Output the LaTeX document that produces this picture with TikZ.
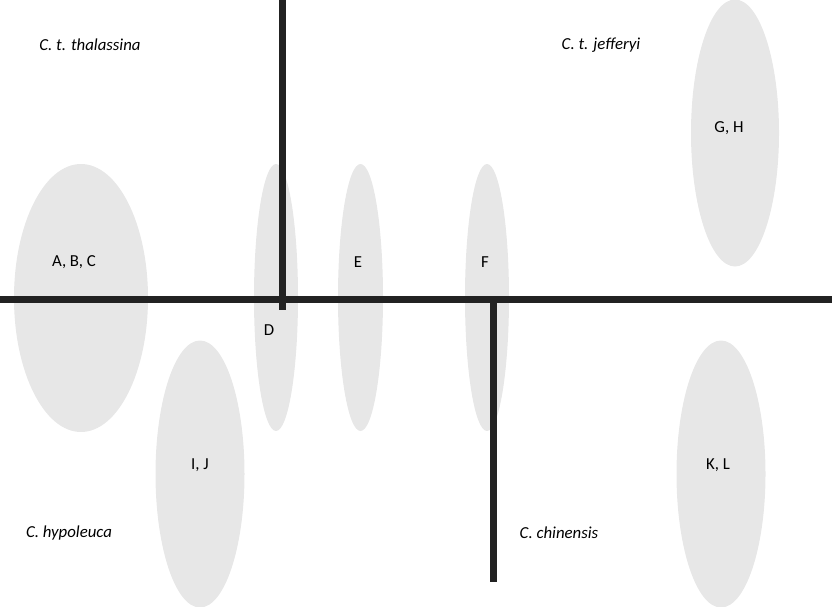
\documentclass[tikz,border=0pt]{standalone}
\usepackage{fontspec}
\setmainfont{Carlito}
\usetikzlibrary{shapes.geometric}
\definecolor{blobgray}{HTML}{E7E7E7}
\definecolor{barblack}{HTML}{222222}
\tikzset{
  blob/.style={ellipse, fill=blobgray, draw=none, inner sep=0pt},
  bar/.style={line width=7pt, draw=barblack},
  lab/.style={font=\fontsize{16.8}{20}\selectfont, text=black, inner sep=0pt},
  sp/.style={lab, font=\fontsize{16.8}{20}\selectfont\itshape}
}
\begin{document}
\begin{tikzpicture}[x=1pt,y=-1pt]
\useasboundingbox (0,0) rectangle (832,607);
% ellipses
\node[blob, minimum width=134pt, minimum height=268pt] (abc) at (81,298) {};
\node[blob, minimum width=88pt, minimum height=267pt] (gh) at (735,133) {};
\node[blob, minimum width=44pt, minimum height=267pt] (d) at (276,297.5) {};
\node[blob, minimum width=45pt, minimum height=267pt] (e) at (360.5,297.5) {};
\node[blob, minimum width=44pt, minimum height=267pt] (f) at (487,297.5) {};
\node[blob, minimum width=89pt, minimum height=267pt] (ij) at (200,474) {};
\node[blob, minimum width=89pt, minimum height=267pt] (kl) at (721,474) {};
% bars
\coordinate (hl) at (0,299.5);
\coordinate (hr) at (832,299.5);
\coordinate (v1t) at (282,0);
\coordinate (v1b) at (282,310);
\coordinate (v2t) at (493.5,296);
\coordinate (v2b) at (493.5,582);
\draw[bar] (hl) -- (hr);
\draw[bar] (v1t) -- (v1b);
\draw[bar] (v2t) -- (v2b);
% labels
\node[lab] (tabc) at (74,262) {A, B, C};
\node[lab] (tgh) at (729,128) {G, H};
\node[lab] (td) at (269,330) {D};
\node[lab] (te) at (358,262) {E};
\node[lab] (tf) at (485,262) {F};
\node[lab] (tij) at (200,465) {I, J};
\node[lab] (tkl) at (718,465) {K, L};
\node[sp] (s1) at (90,45) {C. t. thalassina};
\node[sp] (s2) at (601,45) {C. t. jefferyi};
\node[sp] (s3) at (69,533) {C. hypoleuca};
\node[sp] (s4) at (559,533) {C. chinensis};
\end{tikzpicture}
\end{document}
